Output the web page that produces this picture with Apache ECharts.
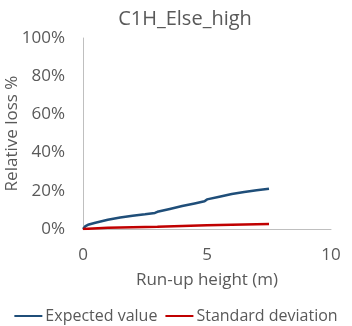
<!DOCTYPE html>
<html><head><meta charset="utf-8">
<script src="https://cdn.jsdelivr.net/npm/echarts@6/dist/echarts.min.js"></script>
<style>html,body{margin:0;padding:0;background:#fff}#c{width:352px;height:326px}</style>
</head><body><div id="c"></div>
<script>
var title = 'C1H_Else_high';
var xTicks = [0, 5, 10];
var expX = [0, 0.1, 0.2, 0.5, 1, 1.5, 2, 2.5, 2.9, 3, 3.5, 4, 4.5, 4.9, 5, 5.5, 6, 6.5, 7, 7.5];
var expectedValue = [0, 1.5, 2.2, 3.3, 4.8, 6.0, 6.9, 7.7, 8.4, 9.0, 10.5, 12.0, 13.4, 14.5, 15.5, 16.9, 18.3, 19.4, 20.3, 21.1];
var stdX = [0, 1, 2, 3, 4, 5, 6, 7, 7.5];
var standardDeviation = [0, 0.6, 0.9, 1.2, 1.6, 1.9, 2.2, 2.5, 2.6];

function pairs(xs, ys){ return xs.map(function(x,i){ return [x, ys[i]]; }); }
var font = '"Open Sans", sans-serif';
var chart = echarts.init(document.getElementById('c'));
chart.setOption({
  animation: false,
  title: { text: title, left: 180, top: 4, textAlign: 'center',
    textStyle: { fontFamily: font, fontSize: 20, fontWeight: 'normal', color: '#595959' } },
  grid: { left: 83, right: 21, top: 38, bottom: 97, containLabel: false, outerBoundsMode: 'none' },
  legend: { top: 303, left: 'center', itemWidth: 28, itemHeight: 2, itemGap: 8,
    icon: 'rect',
    textStyle: { fontFamily: font, fontSize: 16, color: '#595959', padding: [0,0,0,-2] },
    data: ['Expected value', 'Standard deviation'] },
  xAxis: { type: 'value', min: 0, max: 10, interval: 5,
    name: 'Run-up height (m)', nameLocation: 'middle', nameGap: 43, nameMoveOverlap: false,
    nameTextStyle: { fontFamily: font, fontSize: 17, color: '#595959' },
    axisLine: { lineStyle: { color: '#bfbfbf', width: 1 } },
    axisTick: { show: false }, splitLine: { show: false },
    axisLabel: { fontFamily: font, fontSize: 17, color: '#595959', margin: 18 } },
  yAxis: { type: 'value', min: 0, max: 100, interval: 20,
    name: 'Relative loss %', nameLocation: 'middle', nameGap: 62, nameMoveOverlap: false,
    nameTextStyle: { fontFamily: font, fontSize: 17, color: '#595959' },
    axisLine: { show: true, lineStyle: { color: '#bfbfbf', width: 1 } },
    axisTick: { show: false }, splitLine: { show: false },
    axisLabel: { fontFamily: font, fontSize: 17, color: '#595959', margin: 18, formatter: '{value}%' } },
  series: [
    { name: 'Expected value', type: 'line', data: pairs(expX, expectedValue), showSymbol: false, symbol: 'none',
      lineStyle: { color: '#1f4e79', width: 2.5 }, itemStyle: { color: '#1f4e79' } },
    { name: 'Standard deviation', type: 'line', data: pairs(stdX, standardDeviation), showSymbol: false, symbol: 'none',
      lineStyle: { color: '#c00000', width: 2.5 }, itemStyle: { color: '#c00000' } }
  ]
});
</script></body></html>
